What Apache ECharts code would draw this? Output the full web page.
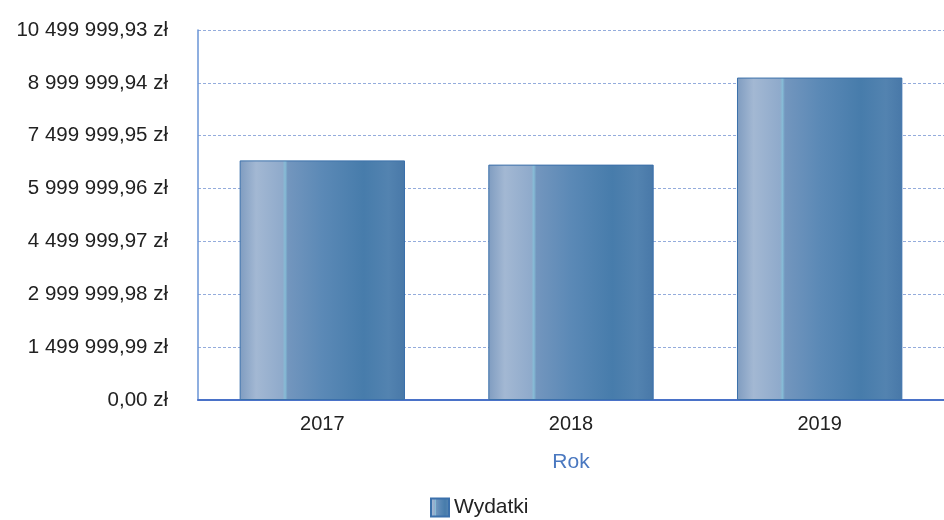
<!DOCTYPE html>
<html>
<head>
<meta charset="utf-8">
<script src="https://cdn.jsdelivr.net/npm/echarts@6/dist/echarts.min.js"></script>
<style>html,body{margin:0;padding:0;background:#fff}#c{width:944px;height:520px}</style>
</head>
<body>
<div id="c"></div>
<script>
const categories = ['2017', '2018', '2019'];
const seriesName = 'Wydatki';
const values = [6800000, 6680000, 9150000];
const axisMin = 0;
const axisMax = 10499999.93;
const axisInterval = 1499999.99;
const xAxisTitle = 'Rok';

function fmtPLN(v) {
  const fixed = (Math.round(v * 100) / 100).toFixed(2);
  const parts = fixed.split('.');
  const intPart = parts[0].replace(/\B(?=(\d{3})+(?!\d))/g, ' ');
  return intPart + ',' + parts[1] + ' zł';
}

const barGradient = new echarts.graphic.LinearGradient(0, 0, 1, 0, [
  { offset: 0, color: '#7f9cc0' },
  { offset: 0.1, color: '#a3b8d3' },
  { offset: 0.26, color: '#8faacb' },
  { offset: 0.275, color: '#86bcd6' },
  { offset: 0.29, color: '#7396be' },
  { offset: 0.5, color: '#5b89b6' },
  { offset: 0.75, color: '#477cab' },
  { offset: 0.9, color: '#5383b0' },
  { offset: 1, color: '#4878a8' }
]);

const chart = echarts.init(document.getElementById('c'), null, { renderer: 'canvas' });
chart.setOption({
  animation: false,
  backgroundColor: '#ffffff',
  textStyle: { fontFamily: 'Liberation Sans, Arial, sans-serif' },
  grid: { left: 198, right: -2, top: 30, bottom: 120, containLabel: false },
  legend: {
    data: [seriesName],
    left: 425,
    top: 492,
    itemWidth: 18,
    itemHeight: 18,
    itemGap: 4,
    icon: 'rect',
    textStyle: { fontSize: 21, color: '#222', fontFamily: 'Liberation Sans, Arial, sans-serif' }
  },
  xAxis: {
    type: 'category',
    data: categories,
    name: xAxisTitle,
    nameLocation: 'middle',
    nameGap: 52,
    nameTextStyle: { fontSize: 21, color: '#4a78c0' },
    axisLine: { lineStyle: { color: '#4a72c8', width: 2 } },
    axisTick: { show: false },
    axisLabel: { fontSize: 20, color: '#222', margin: 14 },
    splitLine: { show: false }
  },
  yAxis: {
    type: 'value',
    min: axisMin,
    max: axisMax,
    interval: axisInterval,
    axisLine: { show: true, lineStyle: { color: '#6a94d6', width: 1.5 } },
    axisTick: { show: false },
    axisLabel: { fontSize: 20.5, color: '#222', margin: 30, formatter: fmtPLN },
    splitLine: { show: true, lineStyle: { color: '#94acdc', width: 1.2, type: [3, 2] } }
  },
  series: [{
    name: seriesName,
    type: 'bar',
    data: values,
    barWidth: '66.5%',
    itemStyle: { color: barGradient, borderColor: '#3b70ab', borderWidth: 1 }
  }]
});
</script>
</body>
</html>
